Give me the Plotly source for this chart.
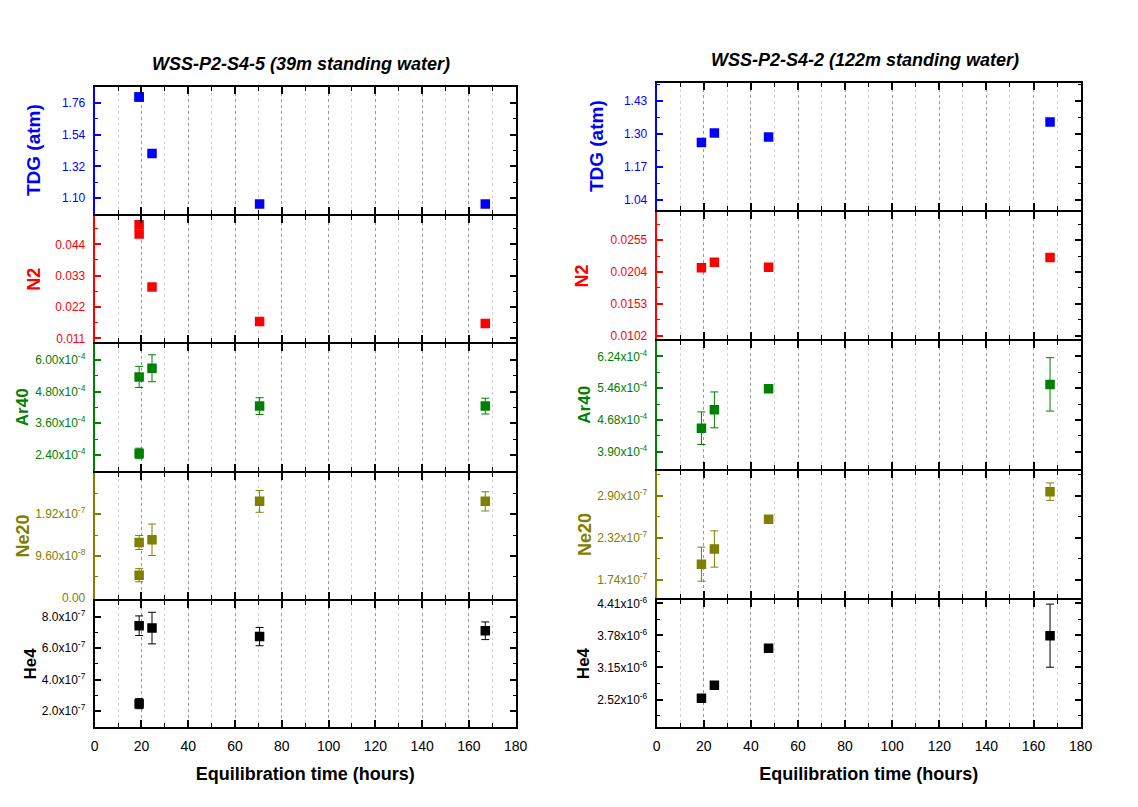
import plotly.graph_objects as go

W, H = 1138, 807

# ---- Site WSS-P2-S4-5 (39 m standing water) ----
hours_a = [19, 19, 24.5, 70.5, 167]
tdg_a = [1.80, 1.80, 1.41, 1.06, 1.06]
n2_a = [0.0509, 0.0476, 0.0290, 0.0169, 0.0162]
ar40_a = [5.36e-4, 2.45e-4, 5.69e-4, 4.25e-4, 4.25e-4]
ar40_err_a = [0.40e-4, 0.20e-4, 0.51e-4, 0.32e-4, 0.30e-4]
ne20_a = [1.27e-7, 0.52e-7, 1.33e-7, 2.21e-7, 2.21e-7]
ne20_err_a = [0.16e-7, 0.15e-7, 0.36e-7, 0.25e-7, 0.22e-7]
he4_a = [7.42e-7, 2.48e-7, 7.27e-7, 6.73e-7, 7.10e-7]
he4_err_a = [0.62e-7, 0.32e-7, 1.00e-7, 0.58e-7, 0.56e-7]

# ---- Site WSS-P2-S4-2 (122 m standing water) ----
hours_b = [19, 24.5, 47.5, 167]
tdg_b = [1.266, 1.303, 1.287, 1.346]
n2_b = [0.02107, 0.02196, 0.02118, 0.02274]
ar40_b = [4.48e-4, 4.93e-4, 5.45e-4, 5.555e-4]
ar40_err_b = [0.40e-4, 0.44e-4, 0.0, 0.655e-4]
ne20_b = [1.954e-7, 2.163e-7, 2.574e-7, 2.954e-7]
ne20_err_b = [0.235e-7, 0.25e-7, 0.0, 0.12e-7]
he4_b = [2.545e-6, 2.80e-6, 3.53e-6, 3.775e-6]
he4_err_b = [0.0, 0.0, 0.0, 0.62e-6]

# ---- Tick values / labels per panel ----
tdg_ticks_a = [1.10, 1.32, 1.54, 1.76]
tdg_text_a = ["1.10", "1.32", "1.54", "1.76"]
n2_ticks_a = [0.011, 0.022, 0.033, 0.044]
n2_text_a = ["0.011", "0.022", "0.033", "0.044"]
ar40_ticks_a = [2.4e-4, 3.6e-4, 4.8e-4, 6.0e-4]
ar40_text_a = ["2.40x10<sup>-4</sup>", "3.60x10<sup>-4</sup>", "4.80x10<sup>-4</sup>", "6.00x10<sup>-4</sup>"]
ne20_ticks_a = [0.0, 9.6e-8, 1.92e-7]
ne20_text_a = ["0.00", "9.60x10<sup>-8</sup>", "1.92x10<sup>-7</sup>"]
he4_ticks_a = [2e-7, 4e-7, 6e-7, 8e-7]
he4_text_a = ["2.0x10<sup>-7</sup>", "4.0x10<sup>-7</sup>", "6.0x10<sup>-7</sup>", "8.0x10<sup>-7</sup>"]

tdg_ticks_b = [1.04, 1.17, 1.30, 1.43]
tdg_text_b = ["1.04", "1.17", "1.30", "1.43"]
n2_ticks_b = [0.0102, 0.0153, 0.0204, 0.0255]
n2_text_b = ["0.0102", "0.0153", "0.0204", "0.0255"]
ar40_ticks_b = [3.90e-4, 4.68e-4, 5.46e-4, 6.24e-4]
ar40_text_b = ["3.90x10<sup>-4</sup>", "4.68x10<sup>-4</sup>", "5.46x10<sup>-4</sup>", "6.24x10<sup>-4</sup>"]
ne20_ticks_b = [1.74e-7, 2.32e-7, 2.90e-7]
ne20_text_b = ["1.74x10<sup>-7</sup>", "2.32x10<sup>-7</sup>", "2.90x10<sup>-7</sup>"]
he4_ticks_b = [2.52e-6, 3.15e-6, 3.78e-6, 4.41e-6]
he4_text_b = ["2.52x10<sup>-6</sup>", "3.15x10<sup>-6</sup>", "3.78x10<sup>-6</sup>", "4.41x10<sup>-6</sup>"]

BLUE, RED, GREEN, OLIVE, BLACK = "#0000ff", "#ff0000", "#008000", "#808000", "#000000"
FONT = "Liberation Sans, Arial, sans-serif"

# panel specs: (x, y, errors, ticks, labels, range, minor step, colour, title, title size, title x px)
panels_a = [
    (hours_a, tdg_a, None, tdg_ticks_a, tdg_text_a, [0.99, 1.87], 0.11, BLUE, "TDG (atm)", 19, 30),
    (hours_a, n2_a, None, n2_ticks_a, n2_text_a, [0.0096, 0.0539], 0.0055, RED, "N2", 18, 31),
    (hours_a, ar40_a, ar40_err_a, ar40_ticks_a, ar40_text_a, [1.8e-4, 6.6e-4], 0.6e-4, GREEN, "Ar40", 17, 19),
    (hours_a, ne20_a, ne20_err_a, ne20_ticks_a, ne20_text_a, [-0.02e-7, 2.87e-7], 0.48e-7, OLIVE, "Ne20", 18, 19),
    (hours_a, he4_a, he4_err_a, he4_ticks_a, he4_text_a, [1.0e-7, 9.0e-7], 1.0e-7, BLACK, "He4", 17, 27),
]
panels_b = [
    (hours_b, tdg_b, None, tdg_ticks_b, tdg_text_b, [1.0, 1.5], 0.065, BLUE, "TDG (atm)", 19, 601),
    (hours_b, n2_b, None, n2_ticks_b, n2_text_b, [0.0096, 0.0300], 0.00255, RED, "N2", 18, 586),
    (hours_b, ar40_b, ar40_err_b, ar40_ticks_b, ar40_text_b, [3.49e-4, 6.61e-4], 0.39e-4, GREEN, "Ar40", 17, 589),
    (hours_b, ne20_b, ne20_err_b, ne20_ticks_b, ne20_text_b, [1.49e-7, 3.245e-7], 0.29e-7, OLIVE, "Ne20", 18, 589),
    (hours_b, he4_b, he4_err_b, he4_ticks_b, he4_text_b, [1.98e-6, 4.48e-6], 0.315e-6, BLACK, "He4", 17, 588),
]

# pixel frames of the two columns of stacked panels (row borders, top to bottom)
col_a = dict(x=(92, 519), rows=[83, 213, 343, 473, 603, 732])
col_b = dict(x=(662, 1092), rows=[79, 209, 340, 471, 602, 732])
LW = 2  # frame line width; neighbouring panels leave LW px so their frames coincide


def ax_name(prefix, n):
    return prefix + ("" if n == 1 else str(n))


fig = go.Figure()
layout = {}
annotations = []

idx = 0
for col, panels in ((col_a, panels_a), (col_b, panels_b)):
    x0, x1 = col["x"]
    for r, (xs, ys, errs, tv, tt, yr, mstep, color, title, tsize, tx) in enumerate(panels):
        idx += 1
        ov = idx + 10
        top_px = col["rows"][r] + (LW / 2 if r > 0 else 0)
        bot_px = col["rows"][r + 1] - (LW / 2 if r < len(panels) - 1 else 0)
        xdom = [x0 / W, x1 / W]
        ydom = [1 - bot_px / H, 1 - top_px / H]
        bottom = r == len(panels) - 1

        trace = dict(
            x=xs, y=ys, mode="markers",
            marker=dict(symbol="square", size=9.5, color=color, line=dict(width=0)),
            xaxis=ax_name("x", idx), yaxis=ax_name("y", idx),
            showlegend=False, hoverinfo="x+y",
        )
        if errs is not None:
            trace["error_y"] = dict(type="data", array=errs, visible=True,
                                    color=color, thickness=1, width=4)
        fig.add_trace(go.Scatter(**trace))
        # placeholder trace so the right-hand frame axis renders
        fig.add_trace(go.Scatter(x=[None], y=[None], xaxis=ax_name("x", idx),
                                 yaxis=ax_name("y", ov), showlegend=False,
                                 hoverinfo="skip"))

        xa = dict(
            domain=xdom, anchor=ax_name("y", idx), range=[0, 180],
            tickmode="linear", tick0=0, dtick=20,
            ticks="inside", ticklen=7, tickwidth=1.5, tickcolor=BLACK,
            showline=True, linecolor=BLACK, linewidth=LW, mirror="ticks",
            showgrid=True, gridcolor="#9a9a9a", griddash="dot", gridwidth=1,
            minor=dict(tickmode="linear", tick0=0, dtick=10, ticks="inside",
                       ticklen=4, tickwidth=1.2, tickcolor=BLACK,
                       showgrid=True, gridcolor="#d4d4d4", griddash="dot", gridwidth=1),
            zeroline=False, showticklabels=bottom,
            tickfont=dict(size=14, color=BLACK),
            ticklabelstandoff=5,
        )
        if bottom:
            xa["title"] = dict(text="<b>Equilibration time (hours)</b>",
                               font=dict(size=18, color=BLACK), standoff=15)
        layout[ax_name("xaxis", idx)] = xa

        layout[ax_name("yaxis", idx)] = dict(
            domain=ydom, anchor=ax_name("x", idx), range=yr,
            tickmode="array", tickvals=tv, ticktext=tt,
            ticks="inside", ticklen=6, tickwidth=1.5, tickcolor=color,
            showline=True, linecolor=color, linewidth=LW,
            minor=dict(tickmode="linear", tick0=tv[0], dtick=mstep, ticks="inside",
                       ticklen=3, tickwidth=1.2, tickcolor=color),
            showgrid=False, zeroline=False,
            tickfont=dict(size=12, color=color),
            ticklabelstandoff=5,
        )
        layout[ax_name("yaxis", ov)] = dict(
            overlaying=ax_name("y", idx), side="right", anchor=ax_name("x", idx),
            range=yr, tickmode="array", tickvals=tv, showticklabels=False,
            ticks="inside", ticklen=6, tickwidth=1.5, tickcolor=BLACK,
            showline=True, linecolor=BLACK, linewidth=LW,
            minor=dict(tickmode="linear", tick0=tv[0], dtick=mstep, ticks="inside",
                       ticklen=3, tickwidth=1.2, tickcolor=BLACK),
            showgrid=False, zeroline=False,
        )
        # vertical axis title
        annotations.append(dict(
            text="<b>%s</b>" % title, textangle=-90,
            x=tx / W, y=1 - (top_px + bot_px) / 2 / H,
            xref="paper", yref="paper", showarrow=False,
            xanchor="center", yanchor="middle",
            font=dict(size=tsize, color=color),
        ))

annotations += [
    dict(text="<b><i>WSS-P2-S4-5 (39m standing water)</i></b>", x=301 / W, y=1 - 60 / H,
         xref="paper", yref="paper", showarrow=False, xanchor="center", yanchor="middle",
         font=dict(size=18, color=BLACK)),
    dict(text="<b><i>WSS-P2-S4-2 (122m standing water)</i></b>", x=873 / W, y=1 - 56 / H,
         xref="paper", yref="paper", showarrow=False, xanchor="center", yanchor="middle",
         font=dict(size=18, color=BLACK)),
]

fig.update_layout(
    width=W, height=H, margin=dict(l=0, r=0, t=0, b=0),
    paper_bgcolor="white", plot_bgcolor="white",
    font=dict(family=FONT, color=BLACK),
    showlegend=False, annotations=annotations,
    **layout,
)

fig.write_html("out.html")
